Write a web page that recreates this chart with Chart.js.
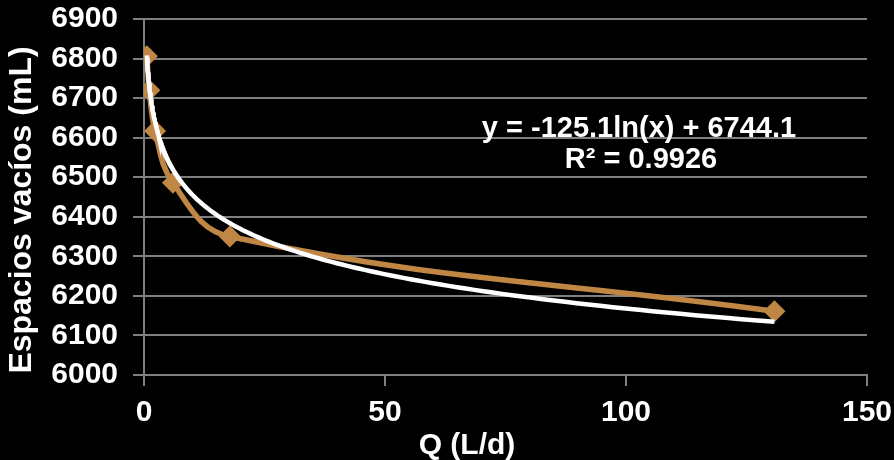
<!DOCTYPE html>
<html>
<head>
<meta charset="utf-8">
<script src="https://cdn.jsdelivr.net/npm/chart.js@4.4.1/dist/chart.umd.min.js"></script>
<style>
  body { margin: 0; background: #000; }
  #myChart { display: block; background: #000; }
</style>
</head>
<body>
<canvas id="myChart" width="894" height="460"></canvas>
<script>
// measured points: flow Q (L/d) vs void volume (mL)
var flowValues = [0.6, 1.1, 2.3, 6.0, 17.8, 130.8];
var voidValues = [6806, 6720, 6617, 6486, 6350, 6161];

// logarithmic trendline y = a*ln(x) + b
var trendA = -125.1;
var trendB = 6744.1;
var trendLabel = "y = -125.1ln(x) + 6744.1";
var r2Label = "R\u00b2 = 0.9926";

var xTicks = [0, 50, 100, 150];
var yMin = 6000;
var yMax = 6900;

var brown = "#bf8644";
var gridGrey = "#7f7f7f";
var fontFamily = "'Liberation Sans', Arial, sans-serif";

function toPoints(xs, ys) {
  return xs.map(function (x, i) {
    return { x: x, y: ys[i] };
  });
}

function trendPoints(from, to, count) {
  var pts = [];
  var l0 = Math.log(from), l1 = Math.log(to);
  for (var i = 0; i <= count; i++) {
    var x = Math.exp(l0 + (l1 - l0) * i / count);
    pts.push({ x: x, y: trendA * Math.log(x) + trendB });
  }
  return pts;
}

// keep the plot area fixed: no extra room for overflowing tick labels
function noScalePadding(scale) {
  scale.paddingTop = 0;
  scale.paddingBottom = 0;
  scale.paddingLeft = 0;
  scale.paddingRight = 0;
}

// axis titles and the trendline equation
var textPlugin = {
  id: "chartText",
  afterDraw: function (chart) {
    var ctx = chart.ctx;
    ctx.save();
    ctx.fillStyle = "#fff";
    ctx.textAlign = "center";
    ctx.textBaseline = "alphabetic";
    ctx.font = "bold 29px " + fontFamily;
    ctx.fillText(trendLabel, 639, 137);
    ctx.fillText(r2Label, 641, 168);

    ctx.textBaseline = "middle";
    ctx.font = "bold 30px " + fontFamily;
    ctx.fillText("Q (L/d)", 467, 446);

    ctx.font = "bold 32px " + fontFamily;
    ctx.translate(22, 210);
    ctx.rotate(-Math.PI / 2);
    ctx.fillText("Espacios vac\u00edos (mL)", 0, 0);
    ctx.restore();
  }
};

var ctx = document.getElementById("myChart");
var myChart = new Chart(ctx, {
  type: "scatter",
  data: {
    datasets: [{
      label: "Tendencia",
      data: trendPoints(flowValues[0], flowValues[flowValues.length - 1], 200),
      showLine: true,
      borderColor: "#ffffff",
      borderWidth: 4.5,
      pointRadius: 0,
      tension: 0,
      order: 0
    },
    {
      label: "Espacios vac\u00edos",
      data: toPoints(flowValues, voidValues),
      showLine: true,
      borderColor: brown,
      backgroundColor: brown,
      borderWidth: 5.5,
      pointStyle: "rectRot",
      pointRadius: 11,
      pointBorderWidth: 0,
      tension: 0.4,
      order: 1
    }]
  },
  options: {
    responsive: false,
    animation: false,
    events: [],
    layout: {
      padding: { left: 0, right: 27, top: 19, bottom: 0 }
    },
    plugins: {
      legend: { display: false },
      tooltip: { enabled: false }
    },
    scales: {
      x: {
        type: "linear",
        min: 0,
        max: 150,
        afterBuildTicks: function (scale) {
          scale.ticks = xTicks.map(function (v) { return { value: v }; });
        },
        afterFit: function (scale) {
          scale.height = 85;
          noScalePadding(scale);
        },
        grid: {
          drawOnChartArea: false,
          drawTicks: true,
          tickLength: 11,
          color: gridGrey,
          lineWidth: 2
        },
        border: { color: gridGrey, width: 2 },
        ticks: {
          color: "#fff",
          padding: 9,
          maxRotation: 0,
          font: { family: fontFamily, size: 30, weight: "bold" }
        }
      },
      y: {
        type: "linear",
        min: yMin,
        max: yMax,
        afterFit: function (scale) {
          scale.width = 144;
          noScalePadding(scale);
        },
        grid: {
          color: gridGrey,
          lineWidth: 2,
          tickLength: 11
        },
        border: { color: gridGrey, width: 2 },
        ticks: {
          stepSize: 100,
          color: "#fff",
          padding: 15,
          font: { family: fontFamily, size: 30, weight: "bold" },
          callback: function (v) { return v; }
        }
      }
    }
  },
  plugins: [textPlugin]
});
</script>
</body>
</html>
